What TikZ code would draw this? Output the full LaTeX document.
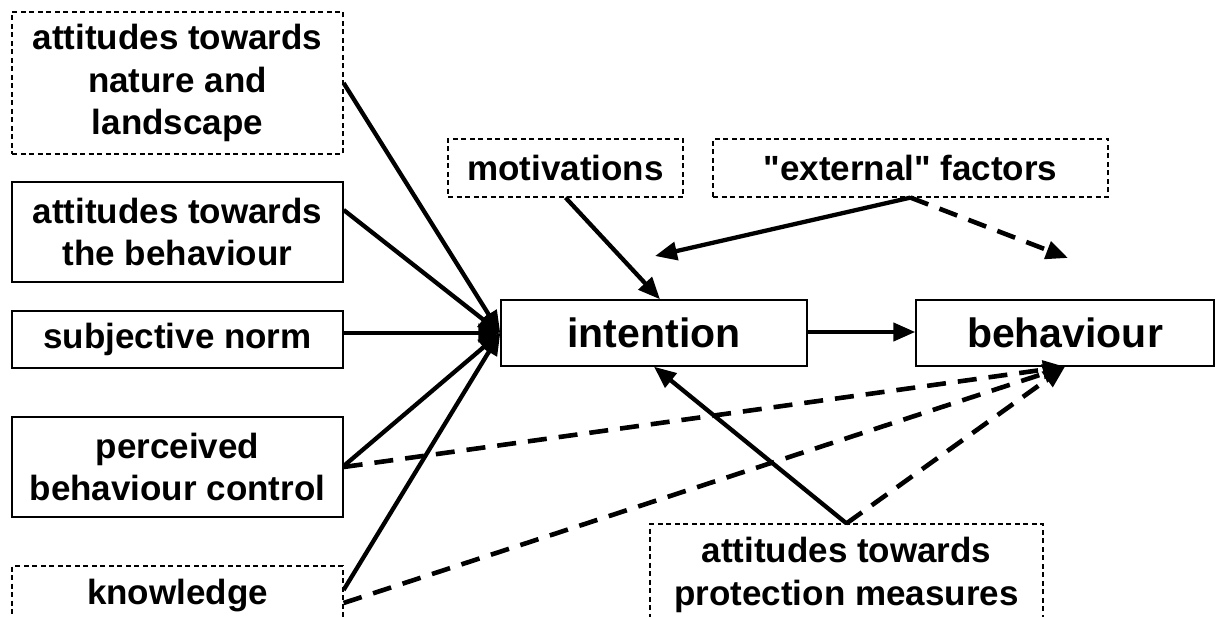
\documentclass[tikz,border=0pt]{standalone}
\usepackage{fontspec}
\setmainfont{Liberation Sans}[Ligatures=ResetAll]
\usetikzlibrary{arrows.meta,calc}
\newcommand\straightdq{\XeTeXglyph\the\XeTeXglyphindex "quotedbl"\relax}
\begin{document}
\begin{tikzpicture}[x=1pt,y=-1pt,
  box/.style={draw, line width=1.4pt, inner sep=0pt, align=center,
    font=\fontsize{35}{42.5}\selectfont\bfseries},
  dbox/.style={box, line width=1.2pt, dash pattern=on 5pt off 3.5pt},
  bigbox/.style={box, font=\fontsize{41}{48}\selectfont\bfseries},
  conn/.style={line width=4.3pt, -{Triangle[length=22pt,width=18pt]}},
  dconn/.style={line width=4.6pt, dash pattern=on 19pt off 12pt, -{Triangle[length=22pt,width=18pt]}}
]
\useasboundingbox (0,0) rectangle (1216,617);
\fill[white] (0,0) rectangle (1216,617);

% left column
\node[dbox, minimum width=331pt, minimum height=142pt] (nat) at (177.5,83) {attitudes towards\\nature and\\landscape};
\node[box, minimum width=331pt, minimum height=100pt] (att) at (177.5,232) {attitudes towards\\the behaviour};
\node[box, minimum width=331pt, minimum height=57pt] (subj) at (177.5,339.5) {subjective norm};
\node[box, minimum width=331pt, minimum height=100pt] (perc) at (177.5,467) {perceived\\behaviour control};
\node[dbox, minimum width=331pt, minimum height=60pt] (know) at (177.5,596) {knowledge};

% top
\node[dbox, minimum width=235pt, minimum height=58pt] (mot) at (565.5,168) {motivations};
\node[dbox, minimum width=395pt, minimum height=58pt] (ext) at (910.5,168) {\straightdq external\straightdq{} factors};

% centre
\node[bigbox, minimum width=306pt, minimum height=66pt] (int) at (654,333) {intention};
\node[bigbox, minimum width=298pt, minimum height=66pt] (beh) at (1065,333) {behaviour};

% bottom
\node[dbox, minimum width=393pt, minimum height=102pt] (prot) at (846.5,575) {attitudes towards\\protection measures};

\coordinate (extL) at (655,256);
\coordinate (extR) at (1068,258);

% dashed connectors to behaviour
\draw[dconn] (perc.east) -- (beh.south);
\draw[dconn] ($(know.east)+(0,7)$) -- (beh.south);
\draw[dconn] (prot.north) -- (beh.south);

% solid connectors to intention
\draw[conn] (nat.east) -- (int.west);
\draw[conn] ($(att.east)+(0,-22)$) -- (int.west);
\draw[conn] ($(subj.east)+(0,-6.5)$) -- (int.west);
\draw[conn] ($(perc.east)+(0,-1)$) -- (int.west);
\draw[conn] ($(know.east)+(0,-6)$) -- (int.west);

\draw[conn] (mot.south) -- ($(int.north)+(6,0)$);
\draw[conn] (prot.north) -- (int.south);
\draw[conn] ($(int.east)+(0,-1)$) -- ($(beh.west)+(0,-1)$);

\draw[conn] (ext.south) -- (extL);
\draw[dconn] (ext.south) -- (extR);
\end{tikzpicture}
\end{document}
